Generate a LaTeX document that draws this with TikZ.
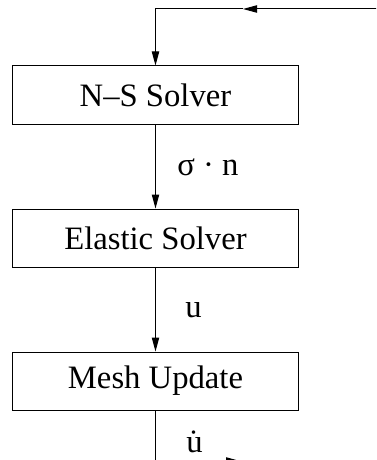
\documentclass[tikz,border=0pt]{standalone}
\usepackage{fontspec}
\setmainfont{Liberation Serif}
\usepackage{tikz}
\usetikzlibrary{arrows.meta, positioning, calc}

\tikzset{
  solverbox/.style={draw, line width=0.75pt, minimum width=215pt, minimum height=43.5pt, inner sep=0pt},
  flow/.style={line width=0.75pt, -{Triangle[length=10.5pt,width=5.5pt]}},
  flowlabel/.style={anchor=base west, inner sep=0pt}
}

\begin{document}
\begin{tikzpicture}[x=0.75pt, y=-0.75pt, font=\fontsize{24.5}{28}\selectfont]
\clip (0,0) rectangle (376,460);
\foreach \lab/\nm [count=\i from 0] in {N--S Solver/ns, Elastic Solver/es, Mesh Update/mu}
  \node[solverbox] (\nm) at (155.5, 95+143*\i) {\lab};
% feedback loop ends
\coordinate (fb in) at (390,9);
\coordinate (fb mid) at (243,9);
\coordinate (fb low) at (240,461);
\coordinate (fb out) at (390,461);
\draw[flow] (fb in) -- (fb mid);
\draw[flow] (fb mid) -| (ns.north);
\draw[flow] (ns.south) -- (es.north);
\draw[flow] (es.south) -- (mu.north);
\draw[flow] (mu.south) |- (fb low);
\draw[line width=0.75pt] (fb low) -- (fb out);
\node[flowlabel] (sn) at (177,175) {σ · n};
\node[flowlabel] (u) at (185,317) {u};
\node[flowlabel] (ud) at (186,452) {\.{u}};
\end{tikzpicture}
\end{document}
